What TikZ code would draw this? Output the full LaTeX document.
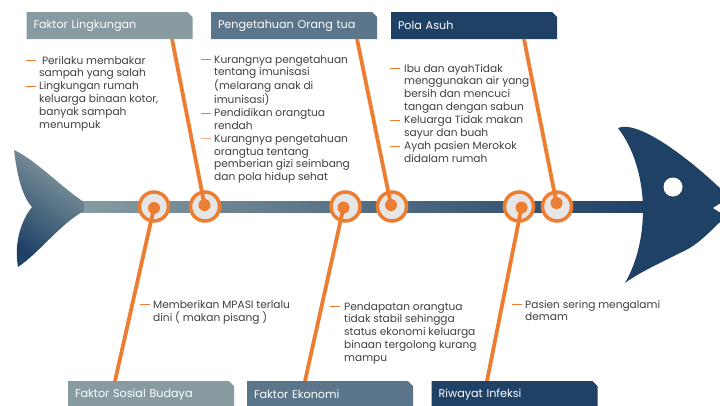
\documentclass[tikz,border=0pt]{standalone}
\usepackage{fontspec}
\setmainfont{Poppins}
\definecolor{orng}{HTML}{ED7D31}
\definecolor{peach}{HTML}{F4B183}
\definecolor{grayb}{HTML}{879BA1}
\definecolor{slate}{HTML}{5B768A}
\definecolor{navy}{HTML}{1F4166}
\definecolor{txt}{HTML}{404040}
\definecolor{ringfill}{HTML}{E6E6E6}
\newcommand{\bul}[1][orng]{\textcolor{#1}{\rule[2.8pt]{10pt}{0.9pt}}}
\tikzset{
  hdr/.style={rectangle, minimum width=166pt, minimum height=27pt,
    text width=152pt, inner xsep=7pt, inner ysep=0pt, align=left, text=white,
    font=\fontsize{11.2}{13}\selectfont,
    path picture={\fill[#1] (path picture bounding box.south west)
      -- (path picture bounding box.north west)
      -- ([xshift=-5pt]path picture bounding box.north east)
      -- ([yshift=-5pt]path picture bounding box.north east)
      -- (path picture bounding box.south east) -- cycle;}},
  ringc/.style={circle, draw=orng, line width=3.5pt, fill=ringfill, minimum size=29pt, inner sep=0pt},
  dotc/.style={circle, fill=orng, minimum size=12pt, inner sep=0pt},
  bone/.style={draw=orng, line width=3.8pt},
  blk/.style={anchor=base west, inner sep=0pt, text=txt, font=\fontsize{10.6}{12.9}\selectfont}
}
\begin{document}
\begin{tikzpicture}[x=1pt,y=-1pt]
\useasboundingbox (0,0) rectangle (720,405);
\fill[white] (0,0) rectangle (720,405);
% spine
\shade[left color=grayb, right color=navy] (80,201) rectangle (650,212);
% tail
\shade[top color=grayb, bottom color=navy, shading angle=-35]
  (84,202) .. controls (62,188) and (36,160) .. (14,150)
  .. controls (17,175) and (22,196) .. (32,207)
  .. controls (20,222) and (14,245) .. (18,267)
  .. controls (40,252) and (60,224) .. (84,211) -- cycle;
% head
\fill[navy] (618,128) .. controls (636,120) and (682,152) .. (722,190)
  -- (722,220) .. controls (706,236) and (696,245) .. (686,250)
  .. controls (662,262) and (640,272) .. (625,283)
  .. controls (650,240) and (650,170) .. (618,128) -- cycle;
\fill[white] (721,203) -- (713,208) -- (721,213) -- cycle;
\node[circle, fill=white, minimum size=19pt, inner sep=0pt] (eye) at (673,187) {};
% header boxes
\node[hdr=grayb] (lk) at (109.5,25.5) {Faktor Lingkungan};
\node[hdr=slate] (po) at (294,25.5) {Pengetahuan Orang tua};
\node[hdr=navy] (pa) at (474,25.5) {Pola Asuh};
\node[hdr=grayb] (sb) at (151,394.5) {Faktor Sosial Budaya};
\node[hdr=slate] (ek) at (330,394.5) {Faktor Ekonomi};
\node[hdr=navy] (ri) at (514.5,394.5) {Riwayat Infeksi};
% anchor points on boxes
\coordinate (lkA) at (172,39);
\coordinate (poA) at (357,39);
\coordinate (paA) at (524,39);
\coordinate (sbA) at (115,381);
\coordinate (ekA) at (305,381);
\coordinate (riA) at (487,381);
% rings
\node[ringc] (r1) at (154,206.5) {};
\node[ringc] (r2) at (205,206.5) {};
\node[ringc] (r3) at (345.5,206.5) {};
\node[ringc] (r4) at (392,206.5) {};
\node[ringc] (r5) at (519,206.5) {};
\node[ringc] (r6) at (557,206.5) {};
% dots
\coordinate (d1) at (154,208);
\coordinate (d2) at (204.5,205);
\coordinate (d3) at (343.5,207.5);
\coordinate (d4) at (391,205);
\coordinate (d5) at (521.5,207.5);
\coordinate (d6) at (556.5,203);
% bones
\draw[bone] (lkA) -- (d2);
\draw[bone] (poA) -- (d4);
\draw[bone] (paA) -- (d6);
\draw[bone] (sbA) -- (d1);
\draw[bone] (ekA) -- (d3);
\draw[bone] (riA) -- (d5);
\foreach \d in {d1,d2,d3,d4,d5,d6} \node[dotc] at (\d) {};
% text blocks
\node[blk] (t1) at (26,64) {\begin{tabular}[t]{@{}p{13pt}@{}l@{}}
\bul & \ Perilaku membakar\\
 & sampah yang salah\\
\bul & Lingkungan rumah\\
 & keluarga binaan kotor,\\
 & banyak sampah\\
 & menumpuk
\end{tabular}};
\node[blk] (t2) at (201,63) {\begin{tabular}[t]{@{}p{13pt}@{}l@{}}
\bul & Kurangnya pengetahuan\\
 & tentang imunisasi\\
 & (melarang anak di\\
 & imunisasi)\\
\bul & Pendidikan orangtua\\
 & rendah\\
\bul[peach] & Kurangnya pengetahuan\\
 & orangtua tentang\\
 & pemberian gizi seimbang\\
 & dan pola hidup sehat
\end{tabular}};
\node[blk] (t3) at (390,72) {\begin{tabular}[t]{@{}p{14pt}@{}l@{}}
\bul & Ibu dan ayahTidak\\
 & menggunakan air yang\\
 & bersih dan mencuci\\
 & tangan dengan sabun\\
\bul & Keluarga Tidak makan\\
 & sayur dan buah\\
\bul & Ayah pasien Merokok\\
 & didalam rumah
\end{tabular}};
\node[blk] (t4) at (140,308) {\begin{tabular}[t]{@{}p{13pt}@{}l@{}}
\bul & Memberikan MPASI terlalu\\
 & dini ( makan pisang )
\end{tabular}};
\node[blk] (t5) at (330,310) {\begin{tabular}[t]{@{}p{14pt}@{}l@{}}
\bul & Pendapatan orangtua\\
 & tidak stabil sehingga\\
 & status ekonomi keluarga\\
 & binaan tergolong kurang\\
 & mampu
\end{tabular}};
\node[blk] (t6) at (512,308) {\begin{tabular}[t]{@{}p{13pt}@{}l@{}}
\bul & Pasien sering mengalami\\
 & demam
\end{tabular}};
\end{tikzpicture}
\end{document}
